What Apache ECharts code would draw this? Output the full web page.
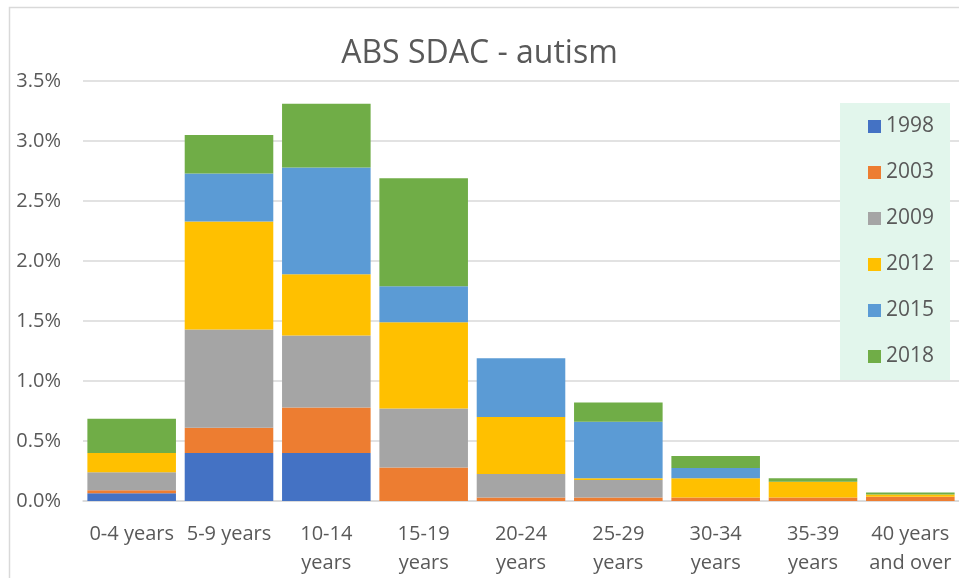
<!DOCTYPE html>
<html>
<head>
<meta charset="utf-8">
<script src="https://cdn.jsdelivr.net/npm/echarts@6/dist/echarts.min.js"></script>
<style>
html,body{margin:0;padding:0;background:#fff;}
#chart{width:959px;height:578px;}
</style>
</head>
<body>
<div id="chart"></div>
<script>
var categories = ['0-4 years','5-9 years','10-14 years','15-19 years','20-24 years','25-29 years','30-34 years','35-39 years','40 years and over'];
var tickLabels = ['0-4 years','5-9 years','10-14\nyears','15-19\nyears','20-24\nyears','25-29\nyears','30-34\nyears','35-39\nyears','40 years\nand over'];
var seriesNames = ['1998','2003','2009','2012','2015','2018'];
var v1998 = [0.065, 0.40, 0.40, 0, 0, 0, 0, 0, 0];
var v2003 = [0.025, 0.21, 0.38, 0.28, 0.03, 0.03, 0.03, 0.03, 0.035];
var v2009 = [0.15, 0.82, 0.60, 0.49, 0.195, 0.145, 0, 0, 0];
var v2012 = [0.16, 0.90, 0.51, 0.72, 0.475, 0.015, 0.16, 0.13, 0.02];
var v2015 = [0, 0.40, 0.89, 0.30, 0.49, 0.47, 0.085, 0, 0];
var v2018 = [0.285, 0.32, 0.53, 0.90, 0, 0.16, 0.10, 0.03, 0.015];
var yTicks = [0, 0.5, 1.0, 1.5, 2.0, 2.5, 3.0, 3.5];

var colors = ['#4472C4','#ED7D31','#A5A5A5','#FFC000','#5B9BD5','#70AD47'];
var values = [v1998, v2003, v2009, v2012, v2015, v2018];
var FONT = "'Open Sans', sans-serif";

var chart = echarts.init(document.getElementById('chart'), null, {renderer:'canvas'});
var series = seriesNames.map(function(n, i){
  return {
    name: n, type: 'bar', stack: 'total', data: values[i],
    barCategoryGap: '9%',
    itemStyle: {color: colors[i]},
    emphasis: {disabled: true}
  };
});
chart.setOption({
  animation: false,
  color: colors,
  title: {
    text: 'ABS SDAC - autism', left: 'center', top: 33,
    textStyle: {fontFamily: FONT, fontSize: 32, fontWeight: 'normal', color: '#595959'}
  },
  graphic: [{
    type: 'rect', z: -10, silent: true,
    shape: {x: 9.5, y: 7.5, width: 1000, height: 1000},
    style: {fill: 'none', stroke: '#D9D9D9', lineWidth: 1.5}
  }],
  legend: {
    orient: 'vertical', left: 840, top: 103,
    padding: [13, 16, 13, 28],
    backgroundColor: '#E2F6EC',
    itemWidth: 13, itemHeight: 13, itemGap: 25,
    icon: 'rect',
    textStyle: {fontFamily: FONT, fontSize: 21, lineHeight: 21, color: '#595959'},
    data: seriesNames
  },
  grid: {left: 83, top: 81, width: 882, bottom: 73.5, containLabel: false},
  xAxis: {
    type: 'category', data: categories,
    axisLine: {lineStyle: {color: '#D9D9D9', width: 1.5}},
    axisTick: {show: false},
    axisLabel: {
      interval: 0, margin: 19, lineHeight: 29,
      fontFamily: FONT, fontSize: 20, color: '#595959',
      formatter: function(v, i){ return tickLabels[i]; }
    }
  },
  yAxis: {
    type: 'value', min: 0, max: 3.5, interval: 0.5,
    axisLine: {show: false}, axisTick: {show: false},
    splitLine: {lineStyle: {color: '#D9D9D9', width: 1.5}},
    axisLabel: {
      margin: 22, fontFamily: FONT, fontSize: 20, color: '#595959',
      formatter: function(v){ return v.toFixed(1) + '%'; }
    }
  },
  series: series
});
</script>
</body>
</html>
